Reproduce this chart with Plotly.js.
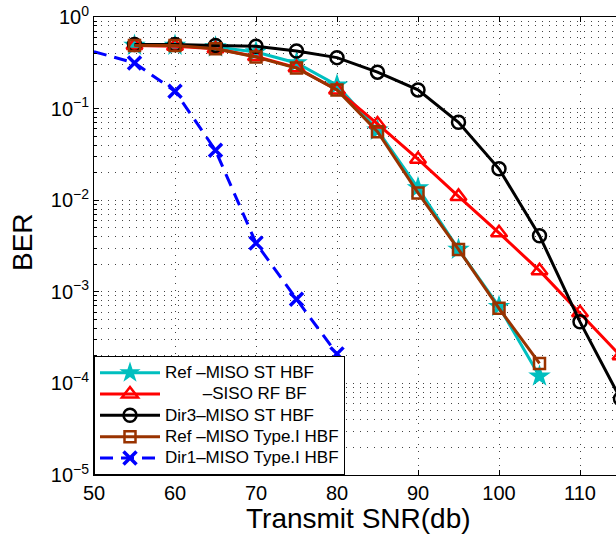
<!DOCTYPE html>
<html>
<head>
<meta charset="utf-8">
<script src="https://cdn.plot.ly/plotly-3.0.1.min.js"></script>
<style>
html,body{margin:0;padding:0;overflow:hidden;background:#fff;width:616px;height:542px;}
#chart{width:681px;height:542px;}
</style>
</head>
<body>
<div id="chart"></div>
<script>
// SNR values (dB)
const snrRefST   = [55,60,65,70,75,80,85,90,95,100,105];
const berRefST   = [0.49,0.49,0.47,0.415,0.315,0.18,0.058,0.0136,0.0029,0.00069,0.00012];
const snrSISO    = [55,60,65,70,75,80,85,90,95,100,105,110,115];
const berSISO    = [0.49,0.48,0.45,0.37,0.28,0.16,0.068,0.028,0.011,0.0044,0.0017,0.00059,0.00020];
const snrDir3    = [55,60,65,70,75,80,85,90,95,100,105,110,115];
const berDir3    = [0.50,0.50,0.49,0.48,0.425,0.36,0.25,0.16,0.071,0.022,0.0041,0.00047,0.000068];
const snrRefT1   = [55,60,65,70,75,80,85,90,95,100,105];
const berRefT1   = [0.49,0.49,0.45,0.365,0.277,0.16,0.056,0.012,0.0029,0.00066,0.000165];
const snrDir1    = [45,55,60,65,70,75,80];
const berDir1    = [0.555,0.315,0.155,0.035,0.0034,0.00083,0.00021];

const names = ['Ref \u2013MISO ST HBF',
  '\u00a0\u00a0\u00a0\u00a0\u00a0\u00a0\u00a0\u00a0\u2013SISO RF BF',
  'Dir3\u2013MISO ST HBF',
  'Ref \u2013MISO Type.I HBF',
  'Dir1\u2013MISO Type.I HBF'];
const legendLabel = s => '<span style="font-size:17px">' + s + '</span>';

const yTickVals = [1,0.1,0.01,0.001,0.0001,0.00001];
const yTickText = ['10<sup>0</sup>','10<sup>\u22121</sup>','10<sup>\u22122</sup>','10<sup>\u22123</sup>','10<sup>\u22124</sup>','10<sup>\u22125</sup>'];
const xTickVals = [50,60,70,80,90,100,110];

const cyan = 'rgb(0,191,191)', red = 'rgb(255,0,0)', brown = 'rgb(153,51,0)', blue = 'rgb(0,0,255)';

const traces = [
  {x:snrRefST, y:berRefST, name:legendLabel(names[0]), mode:'lines+markers',
   line:{color:cyan,width:3}, marker:{symbol:'star',size:17,color:cyan}},
  {x:snrSISO, y:berSISO, name:legendLabel(names[1]), mode:'lines+markers',
   line:{color:red,width:3}, marker:{symbol:'triangle-up-open',size:14,color:red,line:{width:2.5,color:red}}},
  {x:snrDir3, y:berDir3, name:legendLabel(names[2]), mode:'lines+markers',
   line:{color:'#000',width:3}, marker:{symbol:'circle-open',size:13,color:'#000',line:{width:2.5,color:'#000'}}},
  {x:snrRefT1, y:berRefT1, name:legendLabel(names[3]), mode:'lines+markers',
   line:{color:brown,width:3}, marker:{symbol:'square-open',size:11,color:brown,line:{width:2.5,color:brown}}},
  {x:snrDir1, y:berDir1, name:legendLabel(names[4]), mode:'lines+markers',
   line:{color:blue,width:3,dash:'13px,8px'}, marker:{symbol:'x-thin-open',size:13,color:blue,line:{width:3.5,color:blue}}}
];

const gridDash = '1px,6px';
const layout = {
  width:681, height:542,
  margin:{l:94, r:20, t:17, b:67},
  paper_bgcolor:'#fff', plot_bgcolor:'#fff',
  font:{family:'Liberation Sans, Arial, sans-serif', color:'#000', size:18},
  showlegend:true,
  xaxis:{range:[50,120], tickvals:xTickVals, ticktext:xTickVals.map(String),
    ticks:'inside', ticklen:5, tickcolor:'#000', showline:true, linecolor:'#000', linewidth:1, mirror:'ticks',
    showgrid:true, gridcolor:'#444', gridwidth:1, griddash:gridDash, zeroline:false,
    tickfont:{size:20}},
  yaxis:{type:'log', range:[-5,0], tickvals:yTickVals, ticktext:yTickText,
    ticks:'inside', ticklen:5, tickcolor:'#000', showline:true, linecolor:'#000', linewidth:1, mirror:'ticks',
    showgrid:true, gridcolor:'#444', gridwidth:1, griddash:gridDash, zeroline:false,
    tickfont:{size:20},
    minor:{dtick:'D1', ticks:'inside', ticklen:3, tickcolor:'#000', showgrid:true, gridcolor:'#444', gridwidth:1, griddash:gridDash}},
  legend:{x:0, y:0, xanchor:'left', yanchor:'bottom', bgcolor:'#fff', bordercolor:'#000', borderwidth:1,
    font:{size:14.1}, itemwidth:60, tracegroupgap:0},
  annotations:[
    {text:'Transmit SNR(db)', xref:'paper', yref:'paper', x:(358-94)/567, y:-(518-475)/458,
     xanchor:'center', yanchor:'middle', showarrow:false, font:{size:28}},
    {text:'BER', xref:'paper', yref:'paper', x:(22-94)/567, y:(475-242)/458,
     xanchor:'center', yanchor:'middle', showarrow:false, textangle:-90, font:{size:28}}
  ]
};

Plotly.newPlot('chart', traces, layout, {staticPlot:true, displayModeBar:false});
</script>
</body>
</html>
